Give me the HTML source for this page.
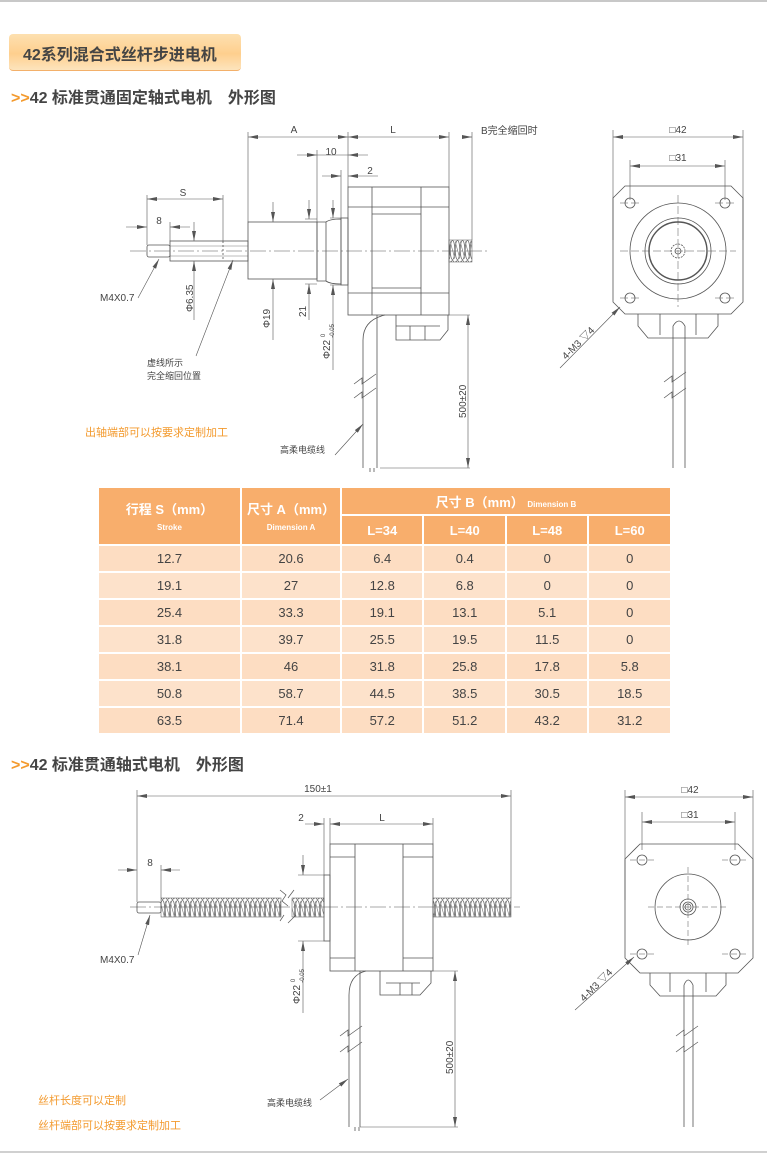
<!DOCTYPE html>
<html><head><meta charset="utf-8"><style>
body{margin:0;width:767px;height:1161px;background:#fff;position:relative;overflow:hidden;font-family:"Liberation Sans","Noto Sans CJK SC",sans-serif}
.abs{position:absolute}
table{position:absolute;left:97px;top:486px;border-collapse:collapse;width:575px;font-family:"Liberation Sans","Noto Sans CJK SC",sans-serif}
td{border:2px solid #fff;text-align:center;font-size:13px;color:#444;padding:0}
th{border:2px solid #fff;background:#f8ae6c;color:#fff;font-weight:bold;font-size:13px;padding:0}
tr.d td{background:#fde2cb;height:25px}
tr.d:nth-child(odd) td{background:#fdddc2}
</style></head><body>
<div class="abs" style="left:0;top:0;width:767px;height:2px;background:#c8c8c8"></div>
<div class="abs" style="left:0;top:1151px;width:767px;height:2px;background:#d0d0d0"></div>
<div class="abs" style="left:9px;top:34px;width:232px;height:36px;border-radius:4px;background:linear-gradient(#fde0b0,#fecf8e 55%,#fde4bd);border-bottom:1px solid #f3b06a"></div>
<div class="abs" style="left:23px;top:41px;font-size:16px;font-weight:bold;color:#444">42系列混合式丝杆步进电机</div>
<div class="abs" style="left:11px;top:84px;font-size:16px;font-weight:bold;color:#444"><span style="color:#f39a2e">&gt;&gt;</span>42 标准贯通固定轴式电机　外形图</div>
<div class="abs" style="left:11px;top:751px;font-size:16px;font-weight:bold;color:#444"><span style="color:#f39a2e">&gt;&gt;</span>42 标准贯通轴式电机　外形图</div>

<table>
<tr><th rowspan="2" style="width:141px;height:56px">行程 S（mm）<br><span style="font-size:8px">Stroke</span></th>
<th rowspan="2" style="width:98px">尺寸 A（mm）<br><span style="font-size:8px">Dimension A</span></th>
<th colspan="4" style="height:26px">尺寸 B（mm） <span style="font-size:8px">Dimension B</span></th></tr>
<tr><th>L=34</th><th>L=40</th><th>L=48</th><th>L=60</th></tr>
<tr class="d"><td>12.7</td><td>20.6</td><td>6.4</td><td>0.4</td><td>0</td><td>0</td></tr>
<tr class="d"><td>19.1</td><td>27</td><td>12.8</td><td>6.8</td><td>0</td><td>0</td></tr>
<tr class="d"><td>25.4</td><td>33.3</td><td>19.1</td><td>13.1</td><td>5.1</td><td>0</td></tr>
<tr class="d"><td>31.8</td><td>39.7</td><td>25.5</td><td>19.5</td><td>11.5</td><td>0</td></tr>
<tr class="d"><td>38.1</td><td>46</td><td>31.8</td><td>25.8</td><td>17.8</td><td>5.8</td></tr>
<tr class="d"><td>50.8</td><td>58.7</td><td>44.5</td><td>38.5</td><td>30.5</td><td>18.5</td></tr>
<tr class="d"><td>63.5</td><td>71.4</td><td>57.2</td><td>51.2</td><td>43.2</td><td>31.2</td></tr>
</table>

<svg class="abs" style="left:0;top:0" width="767" height="1161" viewBox="0 0 767 1161" font-family="Liberation Sans, Noto Sans CJK SC, sans-serif" font-size="10" fill="none" stroke="#555" stroke-width="0.8">
<defs>
<marker id="a" viewBox="0 0 10 6" refX="10" refY="3" markerWidth="10" markerHeight="6" orient="auto-start-reverse" markerUnits="userSpaceOnUse"><path d="M0,1 L10,3 L0,5z" fill="#555" stroke="none"/></marker>
<pattern id="th" width="5" height="20" patternUnits="userSpaceOnUse"><ellipse cx="2.5" cy="10" rx="2.3" ry="9.5" stroke="#666" stroke-width="0.8" fill="none"/><path d="M0,1 L5,19" stroke="#777" stroke-width="0.6"/></pattern>
</defs>
<g font-size="10" fill="#444" stroke="none">
<text x="294" y="133" text-anchor="middle">A</text><text x="393" y="133" text-anchor="middle">L</text>
<text x="481" y="134">B完全缩回时</text><text x="331" y="155" text-anchor="middle">10</text><text x="370" y="174" text-anchor="middle">2</text>
<text x="183" y="196" text-anchor="middle">S</text><text x="159" y="224" text-anchor="middle">8</text>
<text x="100" y="301">M4X0.7</text>
<text x="147" y="366" font-size="9">虚线所示</text><text x="147" y="379" font-size="9">完全缩回位置</text>
<text x="280" y="453" font-size="9">高柔电缆线</text>
<text x="85" y="436" fill="#f39a2e" font-size="11">出轴端部可以按要求定制加工</text>
<text transform="translate(193,312) rotate(-90)">Φ6.35</text>
<text transform="translate(270,328) rotate(-90)">Φ19</text>
<text transform="translate(306,317) rotate(-90)">21</text>
<text transform="translate(330,359) rotate(-90)">Φ22 <tspan font-size="6" dy="-5">0</tspan><tspan font-size="6" dx="-4" dy="9">-0.05</tspan></text>
<text transform="translate(466,418) rotate(-90)">500±20</text>
<text x="678" y="133" text-anchor="middle">□42</text><text x="678" y="161" text-anchor="middle">□31</text>
<text transform="translate(566,360) rotate(-45)">4-M3 ▽4</text>
<text x="318" y="792" text-anchor="middle">150±1</text><text x="301" y="821" text-anchor="middle">2</text><text x="382" y="821" text-anchor="middle">L</text>
<text x="150" y="866" text-anchor="middle">8</text><text x="100" y="963">M4X0.7</text>
<text transform="translate(300,1004) rotate(-90)">Φ22 <tspan font-size="6" dy="-5">0</tspan><tspan font-size="6" dx="-4" dy="9">-0.05</tspan></text>
<text transform="translate(453,1074) rotate(-90)">500±20</text>
<text x="267" y="1106" font-size="9">高柔电缆线</text>
<text x="38" y="1104" fill="#f39a2e" font-size="11">丝杆长度可以定制</text>
<text x="38" y="1129" fill="#f39a2e" font-size="11">丝杆端部可以按要求定制加工</text>
<text x="690" y="793" text-anchor="middle">□42</text><text x="690" y="818" text-anchor="middle">□31</text>
<text transform="translate(584,1002) rotate(-45)">4-M3 ▽4</text>
</g>
<g stroke-width="0.6">
<path d="M248,132V222M348,132V187M449,132V187M472,132V240M317,150V222M341,170V218M147,195V245M223,195V241M170,222V241"/>
<path d="M248,137H348" marker-start="url(#a)" marker-end="url(#a)"/><path d="M348,137H449" marker-start="url(#a)" marker-end="url(#a)"/>
<path d="M462,137H472" marker-end="url(#a)"/>
<path d="M297,155H317" marker-end="url(#a)"/><path d="M368,155H348" marker-end="url(#a)"/><path d="M317,155H348"/>
<path d="M322,176H341" marker-end="url(#a)"/><path d="M378,176H348" marker-end="url(#a)"/>
<path d="M147,199H223" marker-start="url(#a)" marker-end="url(#a)"/>
<path d="M126,227H147" marker-end="url(#a)"/><path d="M190,227H170" marker-end="url(#a)"/>
<path d="M194,222V241" marker-end="url(#a)"/><path d="M194,320V261" marker-end="url(#a)"/>
<path d="M273,202V222" marker-end="url(#a)"/><path d="M273,340V279" marker-end="url(#a)"/>
<path d="M309,200V219" marker-end="url(#a)"/><path d="M309,320V284" marker-end="url(#a)"/>
<path d="M333,200V218" marker-end="url(#a)"/><path d="M333,370V285" marker-end="url(#a)"/>
<path d="M305,219H317M305,284H317M330,218H341M330,285H341"/>
<path d="M468,315V468" marker-start="url(#a)" marker-end="url(#a)"/><path d="M449,315H470M380,468H470"/>
<path d="M138,298L159,259" marker-end="url(#a)"/>
<path d="M196,356L233,260" marker-end="url(#a)"/>
<path d="M335,455L363,424" marker-end="url(#a)"/>
<path d="M560,368L620,307" marker-end="url(#a)"/>
</g>
<path d="M130,251H490" stroke-dasharray="16,3,2,3" stroke-width="0.5"/>
<rect x="348" y="187" width="101" height="128"/>
<path d="M372,187V315M421,187V315M348,207H449M348,293H449M372,214H421M372,288H421"/>
<rect x="341" y="218" width="7" height="67"/>
<path d="M317,222H326Q330,219 341,219V284Q330,284 326,281H317Z M326,222V281"/>
<rect x="248" y="222" width="69" height="57"/>
<rect x="170" y="241" width="78" height="20"/><path d="M170,246H248M170,256H248" stroke-width="0.4"/>
<rect x="147" y="245" width="23" height="12" rx="2"/>
<path d="M223,241V261" stroke-dasharray="2,2"/>
<rect x="449" y="240" width="23" height="22" fill="url(#th)" stroke-width="0.5"/>
<path d="M385,315Q363,320 363,340V468M377,315Q377,330 377,340V468M370,468V472M374,468V472"/>
<path d="M396,315V340H440L448,330V315M396,326H440M410,326V340M425,326V340"/>
<path d="M354,384l8,-6l0,6l14,-10M354,398l8,-6l0,6l14,-10" stroke-width="0.7"/>
<g stroke-width="0.6"><path d="M613,130V240M743,130V240M630,160V200M725,160V200"/>
<path d="M613,137H743" marker-start="url(#a)" marker-end="url(#a)"/><path d="M630,166H725" marker-start="url(#a)" marker-end="url(#a)"/></g>
<path d="M625,186H731L743,198V302L731,314H625L613,302V198Z"/>
<circle cx="630" cy="203" r="5"/><circle cx="725" cy="203" r="5"/><circle cx="630" cy="298" r="5"/><circle cx="725" cy="298" r="5"/>
<circle cx="678" cy="251" r="48"/><circle cx="678" cy="251" r="33"/><circle cx="678" cy="251" r="29" stroke-width="1.4"/>
<circle cx="678" cy="251" r="7" stroke-dasharray="2,1"/><circle cx="678" cy="251" r="3"/>
<path d="M620,251H736M678,195V307M620,203H640M620,298H640M715,203H735M715,298H735" stroke-dasharray="8,3" stroke-width="0.5"/>
<path d="M638,314V326L648,338H708L718,326V314M660,314V335M696,314V335"/>
<path d="M673,326V468M685,326V468M673,326Q679,316 685,326"/>
<path d="M664,382l8,-6l0,6l14,-10M664,398l8,-6l0,6l14,-10" stroke-width="0.7"/>
<g stroke-width="0.6">
<path d="M137,790V902M511,790V898M324,818V875M330,818V844M433,818V844M137,865V902M161,865V898"/>
<path d="M137,796H511" marker-start="url(#a)" marker-end="url(#a)"/>
<path d="M305,824H324" marker-end="url(#a)"/><path d="M330,824H433" marker-start="url(#a)" marker-end="url(#a)"/>
<path d="M118,870H137" marker-end="url(#a)"/><path d="M180,870H161" marker-end="url(#a)"/>
<path d="M303,855V875" marker-end="url(#a)"/><path d="M303,1013V941" marker-end="url(#a)"/>
<path d="M298,875H324M298,941H324"/>
<path d="M455,971V1127" marker-start="url(#a)" marker-end="url(#a)"/><path d="M433,971H458M360,1127H458"/>
<path d="M138,955L150,915" marker-end="url(#a)"/><path d="M320,1100L348,1079" marker-end="url(#a)"/>
<path d="M575,1010L634,957" marker-end="url(#a)"/>
</g>
<path d="M130,907H520" stroke-dasharray="16,3,2,3" stroke-width="0.5"/>
<rect x="330" y="844" width="103" height="127"/>
<path d="M355,844V971M403,844V971M330,857H355M403,857H433M330,958H355M403,958H433"/>
<rect x="324" y="875" width="6" height="66"/>
<rect x="161" y="898" width="120" height="19" fill="url(#th)" stroke-width="0.5"/>
<rect x="292" y="898" width="32" height="19" fill="url(#th)" stroke-width="0.5"/>
<rect x="433" y="898" width="78" height="19" fill="url(#th)" stroke-width="0.5"/>
<rect x="137" y="902" width="24" height="11" rx="2"/>
<path d="M280,890l6,5l-4,6l6,5M284,915l-4,6M294,890l-6,8M296,915l-8,8" stroke-width="0.7"/>
<path d="M366,971Q349,975 349,995V1127M360,971V1127M355,1127V1131M359,1127V1131"/>
<path d="M380,971V995H420L431,983V971M386,983H420M400,983V995M412,983V995"/>
<path d="M340,1036l8,-6l0,6l14,-10M340,1052l8,-6l0,6l14,-10" stroke-width="0.7"/>
<g stroke-width="0.6"><path d="M625,790V900M753,790V900M642,812V850M735,812V850"/>
<path d="M625,797H753" marker-start="url(#a)" marker-end="url(#a)"/><path d="M642,822H735" marker-start="url(#a)" marker-end="url(#a)"/></g>
<path d="M640,844H738L753,859V958L738,973H640L625,958V859Z"/>
<circle cx="642" cy="860" r="5"/><circle cx="735" cy="860" r="5"/><circle cx="642" cy="954" r="5"/><circle cx="735" cy="954" r="5"/>
<circle cx="688" cy="907" r="33"/><circle cx="688" cy="907" r="8"/><circle cx="688" cy="907" r="5"/><circle cx="688" cy="907" r="3"/>
<path d="M648,907H728M688,867V947M630,860H655M722,860H748M630,954H655M722,954H748" stroke-dasharray="6,3" stroke-width="0.5"/>
<path d="M650,973V985L660,996H716L726,985V973M670,973V992M706,973V992"/>
<path d="M684,985V1127M693,985V1127M684,985Q688,975 693,985"/>
<path d="M676,1036l8,-6l0,6l14,-10M676,1052l8,-6l0,6l14,-10" stroke-width="0.7"/>
</svg>
</body></html>
